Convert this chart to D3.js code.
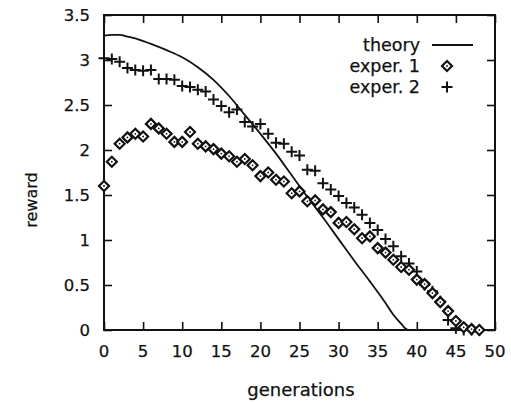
<!DOCTYPE html>
<html>
<head>
<meta charset="utf-8">
<script src="https://cdn.jsdelivr.net/npm/d3@7"></script>
<style>
  body { margin: 0; background: #fff; }
  text { font-family: "DejaVu Sans", sans-serif; fill: #111; stroke: #111; stroke-width: 0.25; }
</style>
</head>
<body>
<div id="chart"></div>
<script>
// theory curve
var theoryX = [0, 1, 2, 3, 4, 5, 6, 8, 10, 12, 14, 16, 18, 20, 22, 24, 26, 28, 30, 32, 34, 36, 37, 38, 38.5, 39, 40];
var theoryY = [3.27, 3.28, 3.28, 3.26, 3.24, 3.21, 3.18, 3.11, 3.03, 2.92, 2.78, 2.6, 2.39, 2.18, 1.96, 1.72, 1.48, 1.25, 1.01, 0.77, 0.54, 0.3, 0.17, 0.07, 0.02, 0, 0];

// exper. 1, one value per generation 0..48
var exp1 = [1.6, 1.87, 2.07, 2.14, 2.18, 2.15, 2.29, 2.24, 2.18, 2.09, 2.09, 2.2, 2.07, 2.04, 2.01, 1.96,
  1.93, 1.87, 1.9, 1.83, 1.71, 1.75, 1.67, 1.65, 1.52, 1.54, 1.43, 1.44, 1.34, 1.31, 1.19, 1.2,
  1.12, 1.02, 1.04, 0.91, 0.86, 0.78, 0.7, 0.67, 0.56, 0.51, 0.41, 0.31, 0.21, 0.1, 0.03, 0.01, 0];

// exper. 2, one value per generation 0..48
var exp2 = [3.02, 3.01, 2.98, 2.91, 2.89, 2.88, 2.89, 2.79, 2.79, 2.78, 2.71, 2.7, 2.67, 2.65, 2.56, 2.49,
  2.42, 2.45, 2.31, 2.26, 2.29, 2.18, 2.08, 2.07, 1.98, 1.94, 1.78, 1.77, 1.63, 1.56, 1.49, 1.41,
  1.36, 1.28, 1.19, 1.11, 1.01, 0.93, 0.82, 0.74, 0.65, 0.5, 0.43, 0.32, 0.11, 0.02, 0, 0, 0];

var xTicks = [0, 5, 10, 15, 20, 25, 30, 35, 40, 45, 50];
var yTicks = [0, 0.5, 1, 1.5, 2, 2.5, 3, 3.5];

var W = 511, H = 403;
var L = 104, R = 495, T = 15, B = 330;

var svg = d3.select('#chart').append('svg')
    .attr('width', W)
    .attr('height', H);

var x = d3.scaleLinear().domain([0, 50]).range([L, R]);
var y = d3.scaleLinear().domain([0, 3.5]).range([B, T]);

var tl = 8; // inward tick length

// frame
svg.append('rect')
    .attr('x', L).attr('y', T)
    .attr('width', R - L).attr('height', B - T)
    .attr('fill', 'none').attr('stroke', '#111').attr('stroke-width', 2);

// ticks, mirrored gnuplot style
function tickStyle(g) {
  g.select('.domain').remove();
  g.selectAll('line').attr('stroke', '#111').attr('stroke-width', 1.6);
}
svg.append('g').attr('transform', 'translate(0,' + B + ')')
    .call(d3.axisTop(x).tickValues(xTicks).tickSize(tl).tickFormat(''))
    .call(tickStyle);
svg.append('g').attr('transform', 'translate(0,' + T + ')')
    .call(d3.axisBottom(x).tickValues(xTicks).tickSize(tl).tickFormat(''))
    .call(tickStyle);
svg.append('g').attr('transform', 'translate(' + L + ',0)')
    .call(d3.axisRight(y).tickValues(yTicks).tickSize(tl).tickFormat(''))
    .call(tickStyle);
svg.append('g').attr('transform', 'translate(' + R + ',0)')
    .call(d3.axisLeft(y).tickValues(yTicks).tickSize(tl).tickFormat(''))
    .call(tickStyle);

// tick labels
svg.selectAll('.xl').data(xTicks).enter().append('text')
    .attr('x', function(d) { return x(d); })
    .attr('y', 357)
    .attr('text-anchor', 'middle')
    .attr('font-size', 16.5)
    .text(function(d) { return d; });
svg.selectAll('.yl').data(yTicks).enter().append('text')
    .attr('x', 90)
    .attr('y', function(d) { return y(d) + 6; })
    .attr('text-anchor', 'end')
    .attr('font-size', 16.5)
    .text(function(d) { return d; });

// axis titles
svg.append('text')
    .attr('x', 301).attr('y', 396)
    .attr('text-anchor', 'middle').attr('font-size', 18)
    .text('generations');
svg.append('text')
    .attr('transform', 'translate(37,200) rotate(-90)')
    .attr('text-anchor', 'middle').attr('font-size', 16)
    .text('reward');

// theory line
var line = d3.line()
    .x(function(d, i) { return x(theoryX[i]); })
    .y(function(d) { return y(d); })
    .curve(d3.curveMonotoneX);
svg.append('path')
    .datum(theoryY)
    .attr('d', line)
    .attr('fill', 'none').attr('stroke', '#111').attr('stroke-width', 1.8);

function diamond(g, cx, cy) {
  g.append('path')
      .attr('d', 'M' + cx + ',' + (cy - 5) + 'L' + (cx + 5) + ',' + cy + 'L' + cx + ',' + (cy + 5) + 'L' + (cx - 5) + ',' + cy + 'Z')
      .attr('fill', '#fff').attr('stroke', '#111').attr('stroke-width', 2.2);
  g.append('circle').attr('cx', cx).attr('cy', cy).attr('r', 0.9).attr('fill', '#111');
}
function plus(g, cx, cy) {
  g.append('path')
      .attr('d', 'M' + (cx - 5.5) + ',' + cy + 'H' + (cx + 5.5) + 'M' + cx + ',' + (cy - 5.5) + 'V' + (cy + 5.5))
      .attr('stroke', '#111').attr('stroke-width', 2);
}

var g2 = svg.append('g');
exp2.forEach(function(v, i) { plus(g2, x(i), y(v)); });
var g1 = svg.append('g');
exp1.forEach(function(v, i) { diamond(g1, x(i), y(v)); });

// legend
var legend = [
  { name: 'theory', base: 51 },
  { name: 'exper. 1', base: 72 },
  { name: 'exper. 2', base: 93 }
];
legend.forEach(function(d) {
  svg.append('text').attr('x', 420).attr('y', d.base)
      .attr('text-anchor', 'end').attr('font-size', 17.5).text(d.name);
});
svg.append('line').attr('x1', 432).attr('x2', 473).attr('y1', 45).attr('y2', 45)
    .attr('stroke', '#111').attr('stroke-width', 1.8);
diamond(svg, 447, 66);
plus(svg, 447, 87);
</script>
</body>
</html>
